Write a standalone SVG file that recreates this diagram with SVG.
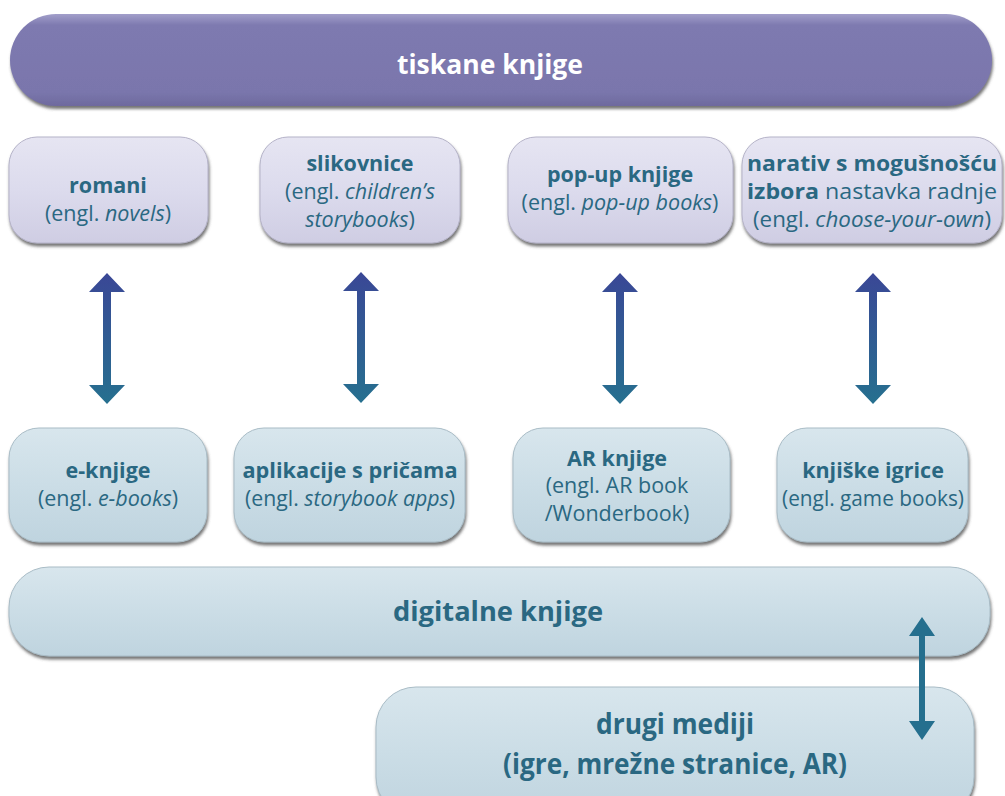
<svg xmlns="http://www.w3.org/2000/svg" width="1005" height="796" viewBox="0 0 1005 796">
<defs>
<linearGradient id="gPurple" x1="0" y1="0" x2="0" y2="1">
<stop offset="0" stop-color="#a29fca"/>
<stop offset="0.12" stop-color="#7e7ab0"/>
<stop offset="0.85" stop-color="#7a76ac"/>
<stop offset="1" stop-color="#6e6a9e"/>
</linearGradient>
<linearGradient id="gLav" x1="0" y1="0" x2="0" y2="1">
<stop offset="0" stop-color="#e6e5f2"/>
<stop offset="0.5" stop-color="#dcdbed"/>
<stop offset="1" stop-color="#cfcde3"/>
</linearGradient>
<linearGradient id="gBlue" x1="0" y1="0" x2="0" y2="1">
<stop offset="0" stop-color="#d8e6ed"/>
<stop offset="0.5" stop-color="#cbdde6"/>
<stop offset="1" stop-color="#bfd4df"/>
</linearGradient>
<linearGradient id="gArrow" x1="0" y1="0" x2="0" y2="1">
<stop offset="0" stop-color="#3a4796"/>
<stop offset="1" stop-color="#26708f"/>
</linearGradient>
<filter id="sh" x="-10%" y="-20%" width="120%" height="150%">
<feDropShadow dx="1" dy="3" stdDeviation="1.5" flood-color="#555" flood-opacity="0.8"/>
</filter>
<path id="dblArrow" d="M0,0 L18,19 L4,19 L4,112 L18,112 L0,131 L-18,112 L-4,112 L-4,19 L-18,19 Z"/>
</defs>
<style>
.t{font-family:"Open Sans","DejaVu Sans",sans-serif;fill:#2a6882;text-anchor:middle}
.b{font-weight:bold;font-size:21.5px}
.r{font-size:21.5px}
.i{font-style:italic}
.big{font-family:"Open Sans","DejaVu Sans",sans-serif;font-weight:bold;text-anchor:middle}
.lav{fill:url(#gLav);stroke:#b5b3c8;stroke-width:1;filter:url(#sh)}
.blu{fill:url(#gBlue);stroke:#a9bcc6;stroke-width:1;filter:url(#sh)}
</style>

<g id="tiskane">
<rect x="10" y="14" width="982" height="92" rx="46" fill="url(#gPurple)" filter="url(#sh)"/>
<text x="490" y="74" class="big" font-size="26" fill="#ffffff" textLength="186" lengthAdjust="spacingAndGlyphs">tiskane knjige</text>
</g>

<g id="romani">
<rect x="9" y="137" width="199" height="106" rx="28" class="lav"/>
<text x="108" y="193" class="t b">romani</text>
<text x="108" y="221" class="t r">(engl. <tspan class="i">novels</tspan>)</text>
</g>
<g id="slikovnice">
<rect x="260" y="137" width="200" height="106" rx="28" class="lav"/>
<text x="360" y="171" class="t b">slikovnice</text>
<text x="360" y="199" class="t r">(engl. <tspan class="i">children’s</tspan></text>
<text x="360" y="227" class="t r i">storybooks<tspan font-style="normal">)</tspan></text>
</g>
<g id="popup">
<rect x="508" y="137" width="225" height="106" rx="28" class="lav"/>
<text x="620" y="182" class="t b">pop-up knjige</text>
<text x="620" y="210" class="t r">(engl. <tspan class="i">pop-up books</tspan>)</text>
</g>
<g id="narativ">
<rect x="742" y="137" width="260" height="106" rx="28" class="lav"/>
<text x="872" y="171" class="t b" textLength="250" lengthAdjust="spacingAndGlyphs">narativ s mogušnošću</text>
<text x="872" y="199" class="t r" textLength="250" lengthAdjust="spacingAndGlyphs"><tspan font-weight="bold">izbora</tspan>  nastavka radnje</text>
<text x="872" y="227" class="t r" textLength="238" lengthAdjust="spacingAndGlyphs">(engl. <tspan class="i">choose-your-own</tspan>)</text>
</g>

<g id="eknjige">
<rect x="9" y="428" width="198" height="114" rx="30" class="blu"/>
<text x="108" y="478" class="t b">e-knjige</text>
<text x="108" y="506" class="t r">(engl. <tspan class="i">e-books</tspan>)</text>
</g>
<g id="aplikacije">
<rect x="234" y="428" width="231" height="114" rx="30" class="blu"/>
<text x="350" y="478" class="t b" textLength="215" lengthAdjust="spacingAndGlyphs">aplikacije s pričama</text>
<text x="350" y="506" class="t r" textLength="210" lengthAdjust="spacingAndGlyphs">(engl. <tspan class="i">storybook apps</tspan>)</text>
</g>
<g id="ar">
<rect x="513" y="428" width="217" height="114" rx="30" class="blu"/>
<text x="617" y="466" class="t b">AR knjige</text>
<text x="617" y="493" class="t r">(engl. AR book</text>
<text x="617" y="521" class="t r">/Wonderbook)</text>
</g>
<g id="knjiske">
<rect x="777" y="428" width="191" height="114" rx="30" class="blu"/>
<text x="873" y="478" class="t b">knjiške igrice</text>
<text x="873" y="506" class="t r" textLength="182" lengthAdjust="spacingAndGlyphs">(engl. game books)</text>
</g>

<g id="digitalne">
<rect x="9" y="567" width="981" height="89" rx="40" class="blu"/>
<text x="498" y="621" class="big" font-size="26" fill="#2a6882" textLength="210" lengthAdjust="spacingAndGlyphs">digitalne knjige</text>
</g>
<g id="drugi">
<rect x="376" y="687" width="598" height="130" rx="40" class="blu"/>
<text x="675" y="734" class="big" font-size="28" fill="#2a6882" textLength="158" lengthAdjust="spacingAndGlyphs">drugi mediji</text>
<text x="675" y="774" class="big" font-size="28" fill="#2a6882" textLength="344" lengthAdjust="spacingAndGlyphs">(igre, mrežne stranice, AR)</text>
</g>

<g id="connectors" fill="url(#gArrow)">
<use href="#dblArrow" x="107" y="273"/>
<use href="#dblArrow" x="361" y="272"/>
<use href="#dblArrow" x="620" y="273"/>
<use href="#dblArrow" x="873" y="273"/>
<path d="M922,617 L935,636 L925,636 L925,721 L935,721 L922,740 L909,721 L919,721 L919,636 L909,636 Z" fill="#256f8e"/>
</g>
</svg>
